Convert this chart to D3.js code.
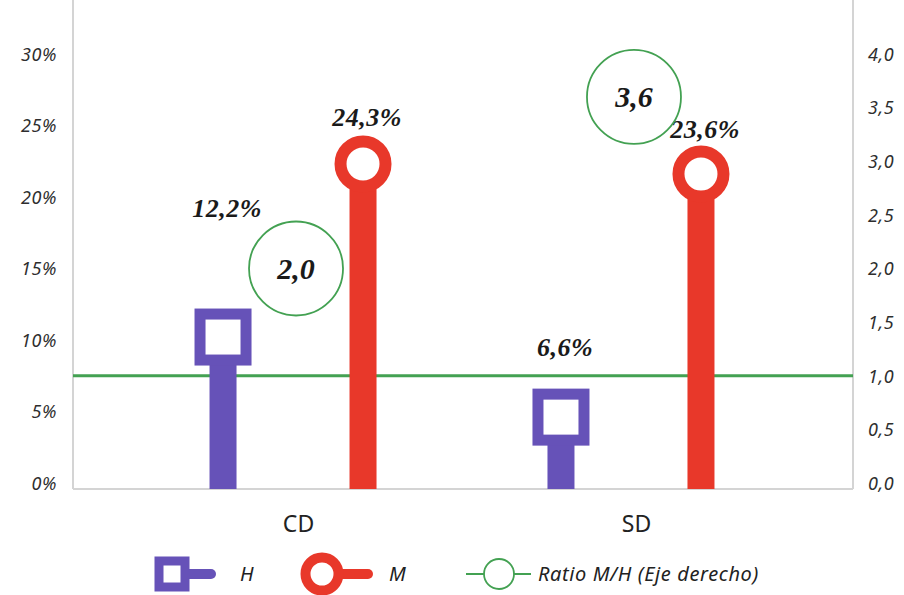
<!DOCTYPE html>
<html>
<head>
<meta charset="utf-8">
<script src="https://cdn.jsdelivr.net/npm/d3@7"></script>
<style>
  html, body { margin: 0; padding: 0; background: #fff; }
  svg { display: block; }
</style>
</head>
<body>
<div id="chart"></div>
<script>
// ---- data ----
const categories = ["CD", "SD"];
const seriesH = [12.2, 6.6];      // % H
const seriesM = [24.3, 23.6];     // % M
const ratioMH = [2.0, 3.6];       // M/H (right axis)
const leftTicks = [0, 5, 10, 15, 20, 25, 30];
const rightTicks = [0, 0.5, 1, 1.5, 2, 2.5, 3, 3.5, 4];
const referenceRatio = 1.0;
const legendLabels = ["H", "M", "Ratio M/H (Eje derecho)"];

// ---- layout ----
const W = 904, H = 595;
const plot = { left: 73, right: 853, top: 0, base: 489 };
const colH = "#6652b8", colM = "#e8382a", colR = "#43a152";
const labelRaise = { H: [92, 33], M: [10, 8] };   // gap above each marker for its value label

const loc = d3.formatLocale({ decimal: ",", thousands: ".", grouping: [3], currency: ["", "€"] });
const f1 = loc.format(".1f");
const fPct = v => loc.format("d")(v) + "%";

const svg = d3.select("#chart").append("svg").attr("width", W).attr("height", H);

const x = d3.scalePoint().domain(categories).range([plot.left, plot.right]).padding(0.654);
const yL = d3.scaleLinear().domain([0, 30]).range([483, 54]);
const yR = d3.scaleLinear().domain([0, 4]).range([483, 54]);
const off = { H: -71, M: 69 };

// axis frame lines
svg.append("line").attr("x1", plot.left).attr("x2", plot.left).attr("y1", plot.top).attr("y2", plot.base)
  .attr("stroke", "#d4d4d4").attr("stroke-width", 2);
svg.append("line").attr("x1", plot.right).attr("x2", plot.right).attr("y1", plot.top).attr("y2", plot.base)
  .attr("stroke", "#d4d4d4").attr("stroke-width", 2);
svg.append("line").attr("x1", plot.left).attr("x2", plot.right).attr("y1", plot.base).attr("y2", plot.base)
  .attr("stroke", "#d4d4d4").attr("stroke-width", 2);

// tick labels via axes (lines hidden)
const tickFont = "'Noto Sans', 'DejaVu Sans', sans-serif";
const gL = svg.append("g").attr("transform", `translate(${plot.left - 16},0)`)
  .call(d3.axisLeft(yL).tickValues(leftTicks).tickFormat(fPct).tickSize(0).tickPadding(0));
const gR = svg.append("g").attr("transform", `translate(${plot.right + 15},0)`)
  .call(d3.axisRight(yR).tickValues(rightTicks).tickFormat(f1).tickSize(0).tickPadding(0));
[gL, gR].forEach(g => {
  g.select(".domain").remove();
  g.selectAll("text").attr("font-family", tickFont).attr("font-style", "italic")
    .attr("font-size", 18).attr("letter-spacing", 0.6)
    .attr("fill", "#2e2e2e").attr("dy", "0.35em");
});

// category labels
const gX = svg.append("g").attr("transform", `translate(0,${plot.base})`)
  .call(d3.axisBottom(x).tickSize(0).tickPadding(35));
gX.select(".domain").remove();
gX.selectAll("text").attr("font-family", "'Noto Sans', sans-serif").attr("font-size", 23)
  .attr("fill", "#222").attr("dx", 4).attr("dy", "0.35em");

// reference line at ratio 1,0
svg.append("line").attr("x1", plot.left).attr("x2", plot.right)
  .attr("y1", yR(referenceRatio)).attr("y2", yR(referenceRatio))
  .attr("stroke", colR).attr("stroke-width", 3);

const mk = 57;        // marker outer size
const stemW = 27;
const labelFont = "'Liberation Serif', 'DejaVu Serif', serif";

// H: stem + hollow square, mark top at the value
const gh = svg.append("g");
categories.forEach((c, i) => {
  const cx = x(c) + off.H, top = yL(seriesH[i]);
  gh.append("rect").attr("x", cx - stemW / 2).attr("width", stemW)
    .attr("y", top + mk / 2).attr("height", plot.base - top - mk / 2).attr("fill", colH);
  gh.append("rect").attr("x", cx - mk / 2 + 5.5).attr("y", top + 5.5)
    .attr("width", mk - 11).attr("height", mk - 11)
    .attr("fill", "#fff").attr("stroke", colH).attr("stroke-width", 11);
  gh.append("text").attr("x", cx + 4).attr("y", top - labelRaise.H[i])
    .attr("text-anchor", "middle").attr("font-family", labelFont).attr("font-weight", "bold")
    .attr("font-style", "italic").attr("font-size", 26).attr("letter-spacing", 0.5)
    .attr("fill", "#1a1a1a")
    .text(f1(seriesH[i]) + "%");
});

// M: stem + ring, mark top at the value
const gm = svg.append("g");
categories.forEach((c, i) => {
  const cx = x(c) + off.M, top = yL(seriesM[i]);
  const cy = top + mk / 2;
  gm.append("rect").attr("x", cx - stemW / 2).attr("width", stemW)
    .attr("y", cy).attr("height", plot.base - cy).attr("fill", colM);
  gm.append("circle").attr("cx", cx).attr("cy", cy).attr("r", mk / 2 - 6)
    .attr("fill", "#fff").attr("stroke", colM).attr("stroke-width", 12);
  gm.append("text").attr("x", cx + 4).attr("y", top - labelRaise.M[i])
    .attr("text-anchor", "middle").attr("font-family", labelFont).attr("font-weight", "bold")
    .attr("font-style", "italic").attr("font-size", 26).attr("letter-spacing", 0.5)
    .attr("fill", "#1a1a1a")
    .text(f1(seriesM[i]) + "%");
});

// ratio bubbles on right axis
const gr = svg.append("g");
categories.forEach((c, i) => {
  const cx = x(c) + 2, cy = yR(ratioMH[i]);
  gr.append("circle").attr("cx", cx).attr("cy", cy).attr("r", 47)
    .attr("fill", "#fff").attr("stroke", colR).attr("stroke-width", 1.8);
  gr.append("text").attr("x", cx).attr("y", cy).attr("dy", "0.35em")
    .attr("text-anchor", "middle").attr("font-family", labelFont).attr("font-weight", "bold")
    .attr("font-style", "italic").attr("font-size", 30).attr("fill", "#1a1a1a")
    .text(f1(ratioMH[i]));
});

// legend
const ly = 574;
const lg = svg.append("g");
const legendFont = { family: "'Noto Sans', sans-serif", size: 20 };
// H
lg.append("line").attr("x1", 180).attr("x2", 211).attr("y1", ly).attr("y2", ly)
  .attr("stroke", colH).attr("stroke-width", 10).attr("stroke-linecap", "round");
lg.append("rect").attr("x", 159).attr("y", ly - 13).attr("width", 26).attr("height", 26)
  .attr("fill", "#fff").attr("stroke", colH).attr("stroke-width", 9);
// M
lg.append("line").attr("x1", 330).attr("x2", 368).attr("y1", ly).attr("y2", ly)
  .attr("stroke", colM).attr("stroke-width", 10).attr("stroke-linecap", "round");
lg.append("circle").attr("cx", 322).attr("cy", ly).attr("r", 16.5)
  .attr("fill", "#fff").attr("stroke", colM).attr("stroke-width", 10);
// ratio
lg.append("line").attr("x1", 466).attr("x2", 531).attr("y1", ly).attr("y2", ly)
  .attr("stroke", colR).attr("stroke-width", 2);
lg.append("circle").attr("cx", 499).attr("cy", ly).attr("r", 15)
  .attr("fill", "#fff").attr("stroke", colR).attr("stroke-width", 1.8);

const legendText = [[240, legendLabels[0]], [389, legendLabels[1]], [538, legendLabels[2]]];
legendText.forEach(([lx, t]) => {
  lg.append("text").attr("x", lx).attr("y", ly).attr("dy", "0.35em")
    .attr("font-family", legendFont.family).attr("font-style", "italic")
    .attr("font-size", legendFont.size).attr("letter-spacing", 0.6)
    .attr("fill", "#222").text(t);
});
</script>
</body>
</html>
